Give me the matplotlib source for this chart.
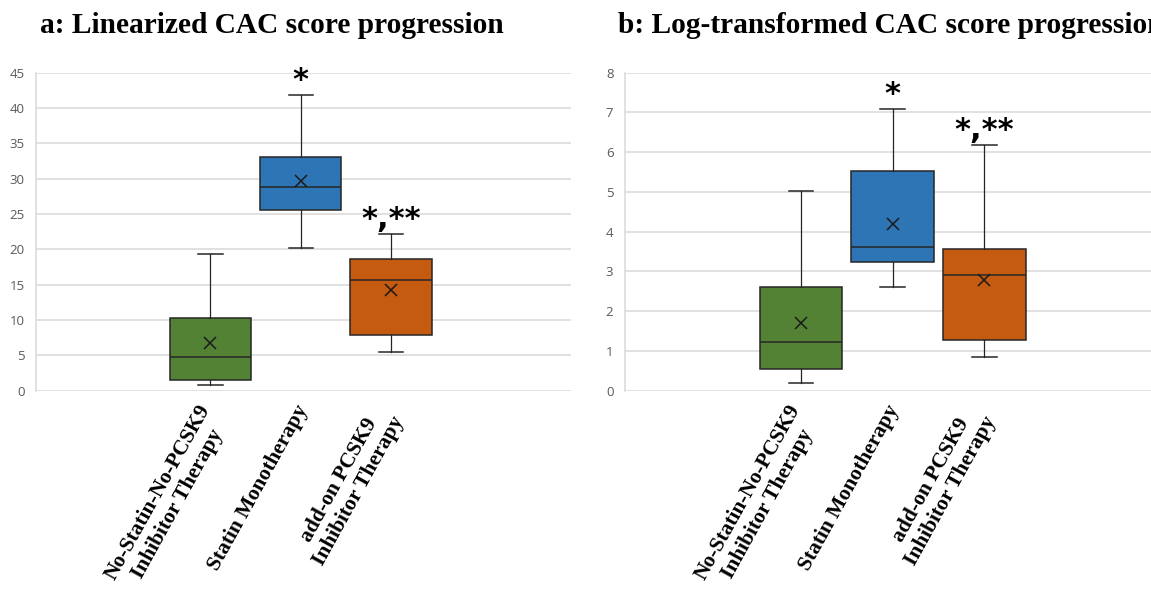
import numpy as np
import matplotlib.pyplot as plt

# Groups and colours
groups = ["No-Statin-No-PCSK9\nInhibitor Therapy", "Statin Monotherapy", "add-on PCSK9\nInhibitor Therapy"]
colors = ["#548235", "#2E75B6", "#C55A11"]
signif = ["", "*", "*,**"]

# a: linearized CAC score progression (whisker low, Q1, median, Q3, whisker high, mean)
lin_whislo = [0.8, 20.2, 5.5]
lin_q1 = [1.5, 25.6, 7.9]
lin_med = [4.8, 28.8, 15.7]
lin_q3 = [10.3, 33.0, 18.7]
lin_whishi = [19.4, 41.9, 22.2]
lin_mean = [6.8, 29.7, 14.3]

# b: log-transformed CAC score progression
log_whislo = [0.19, 2.60, 0.85]
log_q1 = [0.55, 3.23, 1.28]
log_med = [1.22, 3.61, 2.90]
log_q3 = [2.61, 5.53, 3.57]
log_whishi = [5.03, 7.09, 6.18]
log_mean = [1.71, 4.20, 2.79]

GRID = "#D9D9D9"
EDGE = "#262626"


def make_stats(lo, q1, med, q3, hi, mean):
    return [dict(whislo=lo[i], q1=q1[i], med=med[i], q3=q3[i], whishi=hi[i],
                 mean=mean[i], fliers=[]) for i in range(len(lo))]


def draw_panel(ax, stats, ymax, ystep, xlim):
    pos = np.arange(1, len(stats) + 1)
    bp = ax.bxp(stats, positions=pos, widths=0.9, capwidths=0.27,
                patch_artist=True, showmeans=True, showfliers=False,
                boxprops=dict(edgecolor=EDGE, linewidth=1.1),
                medianprops=dict(color=EDGE, linewidth=1.1),
                whiskerprops=dict(color=EDGE, linewidth=0.9),
                capprops=dict(color=EDGE, linewidth=1.1),
                meanprops=dict(marker="x", markeredgecolor="#1a1a1a",
                               markersize=8, markeredgewidth=1.1))
    for box, c in zip(bp["boxes"], colors):
        box.set_facecolor(c)

    ax.set_xlim(*xlim)
    ax.set_ylim(0, ymax)
    ax.set_yticks(np.arange(0, ymax + ystep / 2, ystep))
    ax.set_xticks([])
    ax.yaxis.grid(True, color=GRID, linewidth=1.1)
    ax.set_axisbelow(True)
    for s in ["top", "right", "bottom"]:
        ax.spines[s].set_visible(False)
    ax.spines["left"].set_color(GRID)
    ax.spines["left"].set_linewidth(1.1)
    ax.tick_params(axis="y", length=0, pad=8, labelsize=9.5, labelcolor="#595959")
    for lab in ax.get_yticklabels():
        lab.set_fontfamily("Open Sans")

    # significance marks above the upper whiskers
    for p, s, st in zip(pos, signif, stats):
        if s:
            ax.annotate(s, (p, st["whishi"]), xytext=(0, 4), textcoords="offset points",
                        ha="center", va="baseline", fontsize=22, fontweight="bold",
                        family="DejaVu Sans")

    # rotated group labels under the axis
    for p, g in zip(pos, groups):
        ax.text(p - 0.47, -0.035, g, transform=ax.get_xaxis_transform(),
                rotation=61, ha="center", va="top", multialignment="center",
                fontsize=15.5, fontweight="bold", family="Liberation Serif")


fig = plt.figure(figsize=(11.51, 5.94), dpi=100)

ax1 = fig.add_axes([36 / 1151, 0.3423, 535 / 1151, 0.5354])
draw_panel(ax1, make_stats(lin_whislo, lin_q1, lin_med, lin_q3, lin_whishi, lin_mean),
           45, 5, (-0.93, 4.99))

ax2 = fig.add_axes([624.5 / 1151, 0.3423, 543 / 1151, 0.5354])
draw_panel(ax2, make_stats(log_whislo, log_q1, log_med, log_q3, log_whishi, log_mean),
           8, 1, (-0.923, 4.997))

fig.text(40 / 1151, 1 - 33 / 594, "a: Linearized CAC score progression", ha="left",
         va="baseline", fontsize=21.2, fontweight="bold", family="Liberation Serif")
fig.text(617.7 / 1151, 1 - 33 / 594, "b: Log-transformed CAC score progression", ha="left",
         va="baseline", fontsize=21.2, fontweight="bold", family="Liberation Serif")

fig.savefig("out.png", dpi=100)
